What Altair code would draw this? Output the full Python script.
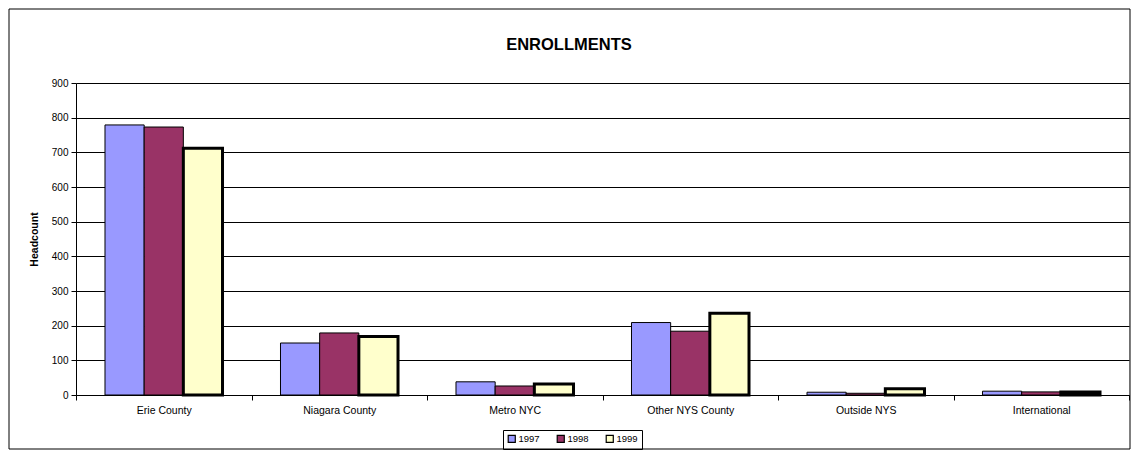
import altair as alt
import pandas as pd

categories = ["Erie County", "Niagara County", "Metro NYC", "Other NYS County", "Outside NYS", "International"]
years = ["1997", "1998", "1999"]
v1997 = [779, 150, 38, 209, 8, 11]
v1998 = [773, 179, 26, 184, 5, 9]
v1999 = [712, 169, 32, 236, 18, 9]
colors = ["#9999FF", "#993366", "#FFFFCC"]
y_ticks = [0, 100, 200, 300, 400, 500, 600, 700, 800, 900]
title_text = "ENROLLMENTS"

rows = []
for yr, vals in zip(years, [v1997, v1998, v1999]):
    for c, v in zip(categories, vals):
        rows.append({"category": c, "year": yr, "value": v})
df = pd.DataFrame(rows)

W, H = 1053, 312
FONT = "Liberation Sans"

leg = alt.Legend(
    title=None, orient="none", legendX=427, legendY=347, direction="horizontal",
    symbolType="square", symbolSize=50, symbolStrokeColor="black", symbolStrokeWidth=1.2,
    labelFontSize=9.5, labelFont=FONT, labelColor="black",
    strokeColor="black", padding=4, columnPadding=14, labelOffset=2,
)

bars = alt.Chart(df).mark_bar(stroke="black").encode(
    x=alt.X("category:N", sort=categories,
            scale=alt.Scale(paddingInner=0, paddingOuter=0),
            axis=alt.Axis(title=None, labelAngle=0, tickBand="extent", tickSize=5,
                          tickColor="black", domainColor="black", labelColor="black",
                          labelFontSize=10.5, labelFont=FONT, labelPadding=5, grid=False)),
    xOffset=alt.XOffset("year:N", sort=years, scale=alt.Scale(paddingOuter=0.74, paddingInner=0)),
    y=alt.Y("value:Q", scale=alt.Scale(domain=[0, 900], nice=False),
            axis=alt.Axis(values=y_ticks, title="Headcount", titleFontSize=10.5, titleFont=FONT,
                          titleFontWeight="bold", titleColor="black", titlePadding=12,
                          tickSize=5, tickColor="black", domainColor="black",
                          labelColor="black", labelFontSize=10, labelFont=FONT, labelPadding=3,
                          grid=True, gridColor="black", gridWidth=1)),
    color=alt.Color("year:N", sort=years, scale=alt.Scale(domain=years, range=colors), legend=leg),
    strokeWidth=alt.condition(alt.datum.year == "1999", alt.value(3), alt.value(1)),
)

one = pd.DataFrame({"k": [0]})
frame = alt.Chart(one).mark_rect(filled=False, stroke="black", strokeWidth=1).encode(
    x=alt.value(-67), x2=alt.value(W + 1), y=alt.value(-74), y2=alt.value(H + 54)
)
title = alt.Chart(one).mark_text(font=FONT, fontSize=16.5, fontWeight="bold", color="black",
                                 align="center", baseline="middle").encode(
    x=alt.value(493), y=alt.value(-38), text=alt.value(title_text)
)

chart = alt.layer(bars, frame, title).properties(
    width=W, height=H,
    autosize=alt.AutoSizeParams(type="none"),
    padding={"left": 68, "top": 75, "right": 2, "bottom": 55},
).configure_view(stroke=None).configure(background="white")

chart.save("out.html", embed_options={"renderer": "svg", "actions": False})
